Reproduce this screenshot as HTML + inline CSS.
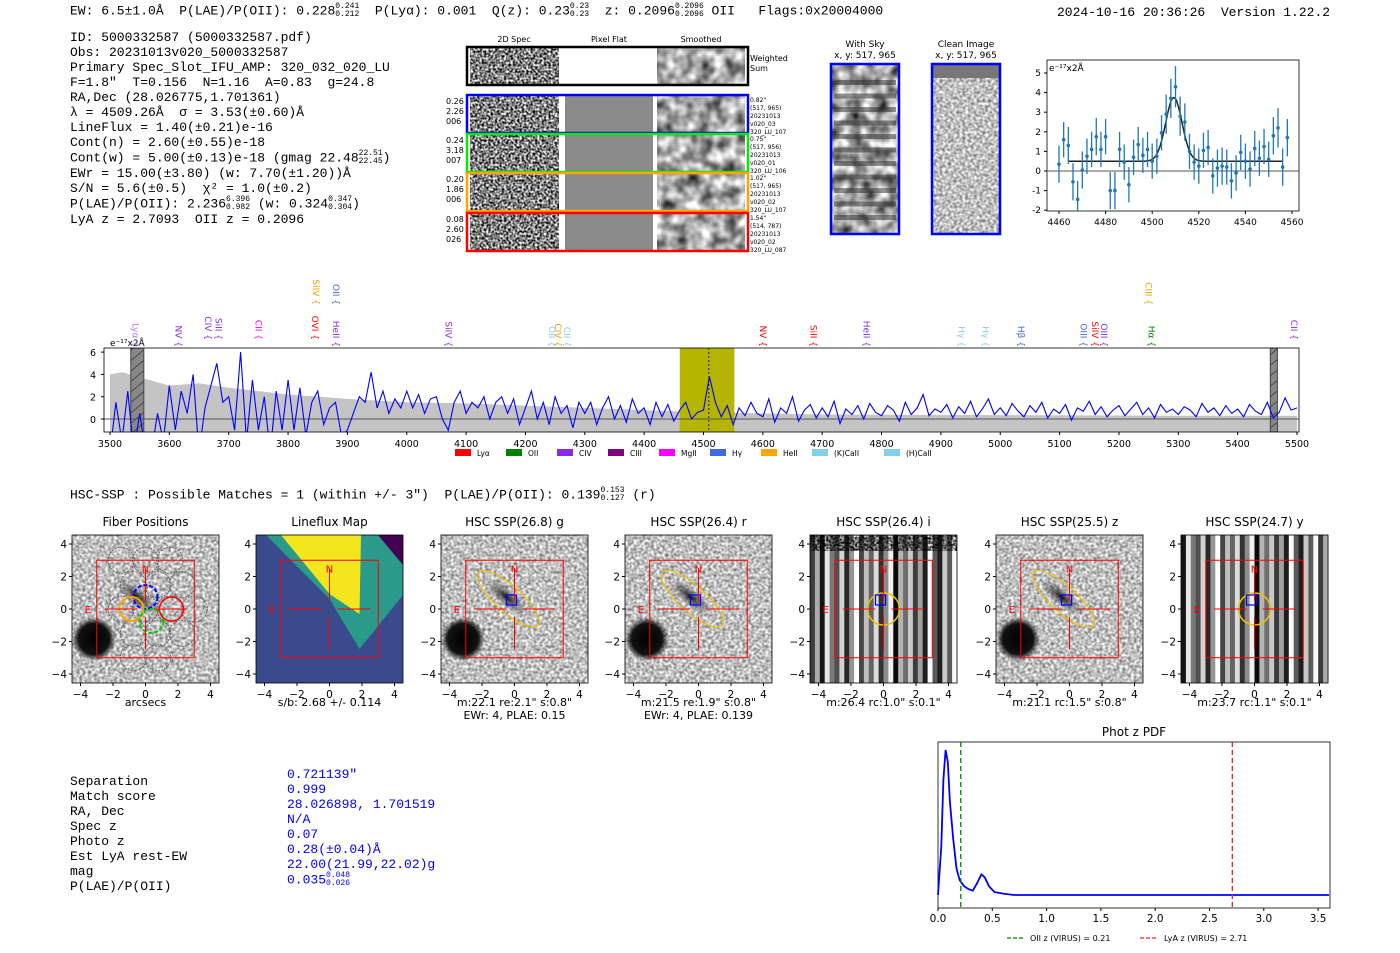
<!DOCTYPE html>
<html><head><meta charset="utf-8">
<style>
body{margin:0;width:1400px;height:953px;background:#fff;position:relative;overflow:hidden;font-family:"DejaVu Sans","Liberation Sans",sans-serif;}
.m{font-family:"Liberation Mono","DejaVu Sans Mono",monospace;font-size:13px;position:absolute;white-space:pre;color:#000;}
.t{position:absolute;white-space:pre;font-size:12px;}
.ss{display:inline-block;vertical-align:middle;line-height:8px;font-size:8px;}
svg{position:absolute;left:0;top:0;}
</style></head>
<body>
<div class="m" style="left:70px;top:3px">EW: 6.5±1.0Å  P(LAE)/P(OII): 0.228<span class="ss">0.241<br>0.212</span>  P(Lyα): 0.001  Q(z): 0.23<span class="ss">0.23<br>0.23</span>  z: 0.2096<span class="ss">0.2096<br>0.2096</span> OII   Flags:0x20004000</div>
<div class="m" style="left:1057px;top:5px">2024-10-16 20:36:26  Version 1.22.2</div>
<div class="m" style="left:70px;top:30px;line-height:15px">ID: 5000332587 (5000332587.pdf)
Obs: 20231013v020_5000332587
Primary Spec_Slot_IFU_AMP: 320_032_020_LU
F=1.8"  T=0.156  N=1.16  A=0.83  g=24.8
RA,Dec (28.026775,1.701361)
λ = 4509.26Å  σ = 3.53(±0.60)Å
LineFlux = 1.40(±0.21)e-16
Cont(n) = 2.60(±0.55)e-18
Cont(w) = 5.00(±0.13)e-18 (gmag 22.48<span class="ss">22.51<br>22.45</span>)
EWr = 15.00(±3.80) (w: 7.70(±1.20))Å
S/N = 5.6(±0.5)  χ² = 1.0(±0.2)
P(LAE)/P(OII): 2.236<span class="ss">6.396<br>0.982</span> (w: 0.324<span class="ss">0.347<br>0.304</span>)
LyA z = 2.7093  OII z = 0.2096</div>

<div class="m" style="left:70px;top:487px">HSC-SSP : Possible Matches = 1 (within +/- 3")  P(LAE)/P(OII): 0.139<span class="ss">0.153<br>0.127</span> (r)</div>

<div class="m" style="left:70px;top:774px;line-height:15px">Separation
Match score
RA, Dec
Spec z
Photo z
Est LyA rest-EW
mag
P(LAE)/P(OII)</div>
<div class="m" style="left:287px;top:767px;line-height:15px;color:#00f">0.721139"
0.999
28.026898, 1.701519
N/A
0.07
0.28(±0.04)Å
22.00(21.99,22.02)g
0.035<span class="ss">0.048<br>0.026</span></div>

<svg id="main" width="1400" height="953" xmlns="http://www.w3.org/2000/svg" font-family="DejaVu Sans, Liberation Sans, sans-serif">
<defs>
<filter id="noise" x="0" y="0" width="100%" height="100%"><feTurbulence type="fractalNoise" baseFrequency="0.45" numOctaves="1" seed="3"/><feColorMatrix type="matrix" values="0 0 0 0 0 0 0 0 0 0 0 0 0 0 0 0 0 0 -2.2 1.6"/><feComposite in2="SourceGraphic" operator="in"/></filter>
<filter id="blur" x="0" y="0" width="100%" height="100%"><feTurbulence type="fractalNoise" baseFrequency="0.08" numOctaves="2" seed="7"/><feColorMatrix type="matrix" values="0 0 0 0 0 0 0 0 0 0 0 0 0 0 0 0 0 0 -1.3 1.0"/><feComposite in2="SourceGraphic" operator="in"/></filter>
<filter id="fine" x="0" y="0" width="100%" height="100%"><feTurbulence type="fractalNoise" baseFrequency="0.35" numOctaves="1" seed="11"/><feColorMatrix type="matrix" values="0 0 0 0 0 0 0 0 0 0 0 0 0 0 0 0 0 0 -1.0 0.75"/><feComposite in2="SourceGraphic" operator="in"/></filter>
<pattern id="hatch" width="8" height="8" patternUnits="userSpaceOnUse" patternTransform="rotate(-40)"><rect width="8" height="8" fill="#888"/><line x1="0" y1="0" x2="8" y2="0" stroke="#333" stroke-width="1.5"/></pattern>
<radialGradient id="blob"><stop offset="0" stop-color="#000"/><stop offset="0.7" stop-color="#111"/><stop offset="1" stop-color="#111" stop-opacity="0"/></radialGradient>
<radialGradient id="gal"><stop offset="0" stop-color="#111"/><stop offset="1" stop-color="#666" stop-opacity="0"/></radialGradient>
<clipPath id="specclip"><rect x="104" y="348" width="1195" height="84"/></clipPath>
<clipPath id="smclip"><rect x="1047" y="60" width="252" height="151"/></clipPath>
</defs>
<g id="cutouts"></g>
<g id="smallplot"></g>
<g id="spectrum"></g>
<g id="panels"></g>
<g id="pdf"></g>
</svg>

<script>
// ---------- Data ----------
const smallWave = [4460,4462,4464,4466,4468,4470,4472,4474,4476,4478,4480,4482,4484,4486,4488,4490,4492,4494,4496,4498,4500,4502,4504,4506,4508,4510,4512,4514,4516,4518,4520,4522,4524,4526,4528,4530,4532,4534,4536,4538,4540,4542,4544,4546,4548,4550,4552,4554,4556,4558];
const smallFlux = [0.35,1.6,1.3,-0.55,-1.45,0.05,0.75,1.1,1.75,1.1,1.75,-1.0,-1.0,1.1,0.45,-0.7,0.7,1.35,0.8,1.1,0.5,0.75,1.95,2.9,3.7,4.3,2.8,2.5,1.0,0.45,0.25,1.05,1.2,-0.25,0.15,0.25,0.2,-0.5,-0.1,0.95,0.5,0.1,1.15,0.65,1.25,0.6,1.8,2.2,0.2,1.7];
const smallErr = [0.95,0.9,0.95,0.95,0.95,0.95,0.9,0.9,0.95,0.9,0.9,0.95,0.95,0.9,0.9,0.9,0.9,0.9,0.9,0.9,0.9,0.9,0.9,1.0,1.0,1.05,1.0,0.95,0.9,0.9,0.9,0.9,0.9,0.9,0.95,0.95,0.9,0.9,0.9,0.9,0.9,0.9,0.9,0.9,0.9,0.9,0.95,1.0,0.95,0.95];
const fitCont = 0.5, fitPeak = 3.25, fitCenter = 4509.3, fitSigma = 3.5;
const smallXTicks = [4460,4480,4500,4520,4540,4560];
const smallYTicks = [-2,-1,0,1,2,3,4,5];

const specStart = 3500, specStep = 10;
const specFlux = [-3,1.5,-2,2.5,-3,0.5,-3,-3,0.5,-2,
3,-1,2.5,0.5,4,-3,1,3,5,1.5,
2,-1,6,-2,3.5,-1,2,-3,2.5,-1,
3.5,-1,2.8,-1.5,1.5,2.5,-0.5,1,1.5,-1.5,
-1,0.5,2,1.5,4.2,1,2.5,0.5,1.8,1,
2.5,1,2.2,0.5,1.8,2,0,-1,1.5,2.5,
0.5,1.5,1,2,0,1.5,2,0.5,1.8,-0.5,
1,2.5,0,1.5,-0.5,2,0.5,1.2,-0.8,1.5,
0.5,1.5,-0.5,1,2,0,1.2,-0.3,1.8,0.5,
1,-0.5,1.5,0.2,1.3,-0.2,0.8,1.5,0,0.6,
0.8,3.8,1.5,0.2,1.2,-0.5,1.0,0.3,1.5,0.5,
0.2,1.8,-0.3,1.0,0.5,2.0,-0.2,0.8,1.3,0.1,
1.0,0.2,1.6,-0.4,0.9,0.4,1.2,0,1.4,0.6,
0.3,1.2,0.8,-0.2,1.5,0.4,1.0,2.2,0.3,0.9,
0.6,1.3,0.1,1.1,0.5,1.6,0.2,0.9,1.8,0.4,
1.0,0.3,1.4,0.7,0.2,1.2,0.6,1.5,0.1,0.9,
0.5,1.3,-0.1,1.0,0.7,1.6,0.4,1.1,0.2,0.8,
1.2,0.3,0.9,1.5,0.4,1.0,0.1,1.3,0.6,0.9,
0.4,1.1,0.8,0.2,1.4,0.6,1.0,0.3,1.2,0.5,
0.9,0.2,1.3,0.7,0.4,1.5,0.1,0.6,1.9,0.8,1.0];
const skyWave = [3500,3520,3560,3600,3650,3700,3800,3900,4000,4100,4200,4300,4400,4500,4700,5000,5300,5500];
const skyFlux = [4.0,4.2,3.6,3.0,3.2,2.8,2.2,1.8,1.5,1.4,1.2,1.0,0.8,0.6,0.4,0.35,0.3,0.3];
const specXTicks = [3500,3600,3700,3800,3900,4000,4100,4200,4300,4400,4500,4600,4700,4800,4900,5000,5100,5200,5300,5400,5500];
const specYTicks = [0,2,4,6];
const lineNames = ["Lyα","NV","CIV","SiII","CII","SiIV","OII","OVI","HeII","SiIV","OII","CIV","CII","NV","SiII","HeII","Hγ","Hγ","Hβ","OIII","SiIV","OIII","CIII","Hα","CII"];
const lineWaves = [3538,3610,3660,3678,3745,3842,3876,3840,3876,4065,4240,4250,4265,4595,4680,4770,4930,4970,5030,5135,5155,5170,5245,5250,5490];
const lineEnds = [347,347,340,340,340,305,305,340,347,347,347,347,347,347,347,347,347,347,347,347,347,347,305,347,340];
const lineColors = ["#c070ff","#8a2be2","#8a2be2","#8a2be2","#ff00ff","#f4a000","#4169e1","#ff0000","#8a2be2","#8a2be2","#87ceeb","#f4a000","#87ceeb","#ff0000","#ff0000","#8a2be2","#87ceeb","#87ceeb","#4169e1","#4169e1","#ff0000","#8a2be2","#f4a000","#008000","#8a2be2"];
const legendNames = ["Lyα","OII","CIV","CIII","MgII","Hγ","HeII","(K)CaII","(H)CaII"];
const legendColors = ["#ff0000","#008000","#8a2be2","#800080","#ff00ff","#4169e1","#ffa500","#87ceeb","#87ceeb"];

const pdfZ = [0,0.03,0.05,0.07,0.09,0.11,0.14,0.17,0.2,0.24,0.28,0.32,0.36,0.4,0.43,0.47,0.52,0.6,0.7,0.9,1.2,2.0,3.0,3.6];
const pdfP = [0.02,0.35,0.8,1.0,0.92,0.65,0.4,0.2,0.12,0.08,0.06,0.05,0.1,0.16,0.14,0.08,0.04,0.03,0.02,0.02,0.02,0.02,0.02,0.02];
const pdfXTicks = [0.0,0.5,1.0,1.5,2.0,2.5,3.0,3.5];
const oiiZ = 0.21, lyaZ = 2.71;

const panelTitles = ["Fiber Positions","Lineflux Map","HSC SSP(26.8) g","HSC SSP(26.4) r","HSC SSP(26.4) i","HSC SSP(25.5) z","HSC SSP(24.7) y"];
const panelCaps1 = ["arcsecs","s/b: 2.68 +/- 0.114","m:22.1  re:2.1\"  s:0.8\"","m:21.5  re:1.9\"  s:0.8\"","m:26.4 rc:1.0\"  s:0.1\"","m:21.1  rc:1.5\"  s:0.8\"","m:23.7 rc:1.1\"  s:0.1\""];
const panelCaps2 = ["","","EWr: 4, PLAE: 0.15","EWr: 4, PLAE: 0.139","","",""];
const panelTicks = [-4,-2,0,2,4];

// ---------- helpers ----------
const NS="http://www.w3.org/2000/svg";
function mk(parent,tag,attrs,text){const e=document.createElementNS(NS,tag);for(const k in attrs)e.setAttribute(k,attrs[k]);if(text!==undefined)e.textContent=text;parent.appendChild(e);return e;}

// ---------- cutouts ----------
(function(){
 const g=document.getElementById('cutouts');
 [["2D Spec",514],["Pixel Flat",609],["Smoothed",701]].forEach(([t,x])=>{const e=mk(g,'text',{x:x,y:42,'font-size':8,'text-anchor':'middle'},t);
 
 });
 mk(g,'rect',{x:470,y:48,width:89,height:36,fill:'#888',filter:'url(#noise)'});
 mk(g,'rect',{x:657,y:48,width:88,height:36,fill:'#999',filter:'url(#blur)'});
 const ws=mk(g,'rect',{x:467,y:47,width:281,height:38,fill:'none',stroke:'#000','stroke-width':2.5});
 
 
 mk(g,'text',{x:750,y:61,'font-size':8},'Weighted');mk(g,'text',{x:750,y:71,'font-size':8},'Sum');
 const rows=[[95,'#0000ff',['0.26','2.26','006'],['0.82"','(517, 965)','20231013','v020_03','320_LU_107']],
 [134,'#00ee00',['0.24','3.18','007'],['0.75"','(517, 956)','20231013','v020_01','320_LU_106']],
 [173,'#ffa500',['0.20','1.86','006'],['1.02"','(517, 965)','20231013','v020_02','320_LU_107']],
 [213,'#ff0000',['0.08','2.60','026'],['1.54"','(514, 787)','20231013','v020_02','320_LU_087']]];
 rows.forEach(([y,c,l,r])=>{
  mk(g,'rect',{x:470,y:y,width:89,height:38,fill:'#888',filter:'url(#noise)'});
  mk(g,'rect',{x:565,y:y,width:88,height:38,fill:'#8a8a8a'});
  mk(g,'rect',{x:657,y:y,width:88,height:38,fill:'#999',filter:'url(#blur)'});
  const b=mk(g,'rect',{x:467,y:y,width:281,height:38,fill:'none',stroke:c,'stroke-width':2.5});
  
  
  l.forEach((s,i)=>mk(g,'text',{x:446,y:y+9+i*10,'font-size':8},s));
  r.forEach((s,i)=>mk(g,'text',{x:750,y:y+7+i*8,'font-size':6},s));
 });
 [[865,'With Sky','x, y: 517, 965',831,'#aaa'],[966,'Clean Image','x, y: 517, 965',932,'#888']].forEach(([cx,t1,t2,x,f],i)=>{
  mk(g,'text',{x:cx,y:47,'font-size':9,'text-anchor':'middle'},t1);
  mk(g,'text',{x:cx,y:58,'font-size':9,'text-anchor':'middle'},t2);
  mk(g,'rect',{x:x,y:64,width:68,height:170,fill:f,filter:i==0?'url(#blur)':'url(#fine)'});
  if(i==0){for(let k=0;k<11;k++)mk(g,'rect',{x:x+3,y:80+k*13.5,width:62,height:5,fill:'#333',opacity:0.55});}
  else mk(g,'rect',{x:x,y:64,width:68,height:14,fill:'#777'});
  const b=mk(g,'rect',{x:x,y:64,width:68,height:170,fill:'none',stroke:'#0000ff','stroke-width':2.5});
  
  
 });
})();

// ---------- small line-fit plot ----------
(function(){
 const g=document.getElementById('smallplot');
 const X=w=>1059+(w-4460)*2.33, Y=v=>171-v*19.6;
 mk(g,'rect',{x:1047,y:60,width:252,height:151,fill:'#fff',stroke:'#000','stroke-width':0.8});
 const c=mk(g,'g',{'clip-path':'url(#smclip)'});
 mk(c,'line',{x1:1047,x2:1299,y1:Y(0),y2:Y(0),stroke:'#555','stroke-width':1});
 let d='';for(let w=4464;w<=4556;w+=0.5){const v=fitCont+fitPeak*Math.exp(-0.5*((w-fitCenter)/fitSigma)**2);d+=(d?'L':'M')+X(w).toFixed(1)+','+Y(v).toFixed(1);}
 const fl=mk(c,'path',{d:d,fill:'none',stroke:'#222','stroke-width':1.5});
 
 
 smallWave.forEach((w,i)=>{
  mk(c,'line',{x1:X(w),x2:X(w),y1:Y(smallFlux[i]-smallErr[i]),y2:Y(smallFlux[i]+smallErr[i]),stroke:'#1f77b4','stroke-width':1.3});
  const p=mk(c,'circle',{cx:X(w),cy:Y(smallFlux[i]),r:1.8,fill:'#1f77b4'});
  
  
 });
 smallXTicks.forEach(t=>{mk(g,'line',{x1:X(t),x2:X(t),y1:211,y2:214,stroke:'#000'});mk(g,'text',{x:X(t),y:225,'font-size':9,'text-anchor':'middle'},t);});
 smallYTicks.forEach(t=>{mk(g,'line',{x1:1044,x2:1047,y1:Y(t),y2:Y(t),stroke:'#000'});mk(g,'text',{x:1041,y:Y(t)+3,'font-size':9,'text-anchor':'end'},t);});
 mk(g,'text',{x:1049,y:71,'font-size':9},'e⁻¹⁷x2Å');
})();

// ---------- main spectrum ----------
(function(){
 const g=document.getElementById('spectrum');
 const X=w=>110+(w-3500)*0.5935, Y=v=>419-v*11.15;
 mk(g,'rect',{x:104,y:348,width:1195,height:84,fill:'#fff'});
 const c=mk(g,'g',{'clip-path':'url(#specclip)'});
 let d='M'+X(skyWave[0])+','+432;skyWave.forEach((w,i)=>d+='L'+X(w).toFixed(1)+','+Y(skyFlux[i]).toFixed(1));d+='L'+X(5500)+',432Z';
 const sky=mk(c,'path',{d:d,fill:'#c4c4c4'});
 
 
 const yb=mk(c,'rect',{x:X(4460),y:348,width:X(4552)-X(4460),height:84,fill:'#b5b500'});
 
 
 mk(c,'rect',{x:X(3535),y:348,width:X(3557)-X(3535),height:84,fill:'url(#hatch)',stroke:'#444'});
 mk(c,'rect',{x:X(5455),y:348,width:X(5467)-X(5455),height:84,fill:'url(#hatch)',stroke:'#444'});
 mk(c,'line',{x1:104,x2:1299,y1:Y(0),y2:Y(0),stroke:'#555','stroke-width':1});
 mk(c,'line',{x1:X(4509),x2:X(4509),y1:348,y2:432,stroke:'#000','stroke-dasharray':'2,2','stroke-width':0.8});
 let p='';specFlux.forEach((v,i)=>{p+=(i?'L':'M')+X(specStart+i*specStep).toFixed(1)+','+Y(v).toFixed(1);});
 const ln=mk(c,'path',{d:p,fill:'none',stroke:'#0000ff','stroke-width':1.1});
 
 
 mk(g,'rect',{x:104,y:348,width:1195,height:84,fill:'none',stroke:'#000','stroke-width':0.8});
 specXTicks.forEach(t=>{mk(g,'line',{x1:X(t),x2:X(t),y1:432,y2:435,stroke:'#000'});mk(g,'text',{x:X(t),y:447,'font-size':9.5,'text-anchor':'middle'},t);});
 specYTicks.forEach(t=>{mk(g,'line',{x1:101,x2:104,y1:Y(t),y2:Y(t),stroke:'#000'});mk(g,'text',{x:96,y:Y(t)+4,'font-size':9.5,'text-anchor':'end'},t);});
 mk(g,'text',{x:110,y:346,'font-size':9},'e⁻¹⁷x2Å');
 lineNames.forEach((n,i)=>{const x=X(lineWaves[i]), y=lineEnds[i];
  const t=mk(g,'text',{x:x,y:y,'font-size':9,fill:lineColors[i],transform:`rotate(90 ${x} ${y})`,'text-anchor':'end'},n+' {');
  
  
 });
 let lx=455;legendNames.forEach((n,i)=>{const r=mk(g,'rect',{x:lx,y:449,width:16,height:7,fill:legendColors[i]});
  
  
  mk(g,'text',{x:lx+22,y:456,'font-size':7.5},n);lx+=n.length>5?72:51;});
})();

// ---------- image panels ----------
(function(){
 const g=document.getElementById('panels');
 const lefts=[72,256,441,625,810,996,1181];
 const stripeShades=[30,200,90,250,60,170,20,230,120,80,210,40,150,255,70,190,100,220,50,140,240,10,180,110,200,60,160,30,250,90];
 lefts.forEach((L,k)=>{
  const W=147,T=535,H=148,cx=L+W/2,cy=T+H/2,s=16.25;
  const pg=mk(g,'g',{});
  
  
  mk(pg,'text',{x:cx,y:526,'font-size':12,'text-anchor':'middle'},panelTitles[k]);
  if(k==1){
   mk(pg,'rect',{x:L,y:T,width:W,height:H,fill:'#3b4a8c'});
   mk(pg,'polygon',{points:`${L+10},${T} ${L+W},${T} ${L+W},${T+60} ${cx+30},${cy+40} ${cx},${cy-10}`,fill:'#2a9a8a'});
   mk(pg,'polygon',{points:`${L+25},${T} ${L+105},${T} ${cx+30},${cy+5} ${cx},${cy-15}`,fill:'#f4e61e'});
   mk(pg,'polygon',{points:`${L+W-25},${T} ${L+W},${T} ${L+W},${T+30}`,fill:'#440154'});
  } else if(k==4||k==6){
   const n=30;for(let i=0;i<n;i++){const v=stripeShades[(i+k)%n];mk(pg,'rect',{x:L+i*W/n,y:T,width:W/n+0.5,height:H,fill:`rgb(${v},${v},${v})`});}
   if(k==4)mk(pg,'rect',{x:L,y:T,width:W,height:16,fill:'#888',filter:'url(#noise)'});
  } else {
   mk(pg,'rect',{x:L,y:T,width:W,height:H,fill:'#c8c8c8',filter:'url(#fine)'});
   mk(pg,'circle',{cx:L+22,cy:T+104,r:22,fill:'url(#blob)'});
   mk(pg,'ellipse',{cx:cx-8,cy:cy-12,rx:28,ry:9,fill:'url(#gal)',transform:`rotate(40 ${cx-8} ${cy-12})`});
  }
  if(k==0){[[-1,2],[1,2],[-2,0],[0,0],[2,0],[-1,-2],[1,-2],[0,4],[2,4],[-2,4],[3,2],[3,-2],[1,-4],[-1,-4],[4,0]].forEach(([a,b])=>mk(pg,'circle',{cx:cx+a*s*0.75,cy:cy-b*s*0.75,r:13,fill:'none',stroke:'#666','stroke-dasharray':'2,1'}));
   mk(pg,'circle',{cx:cx,cy:cy-12,r:12,fill:'none',stroke:'#00f','stroke-width':2,'stroke-dasharray':'4,2'});
   mk(pg,'circle',{cx:cx-14,cy:cy,r:12,fill:'none',stroke:'orange','stroke-width':2});
   mk(pg,'circle',{cx:cx+6,cy:cy+12,r:12,fill:'none',stroke:'#0c0','stroke-width':2,'stroke-dasharray':'4,2'});
   mk(pg,'circle',{cx:cx+26,cy:cy,r:12,fill:'none',stroke:'red','stroke-width':1.5});}
  if(k>=2){ if(k==2||k==3||k==5)mk(pg,'ellipse',{cx:cx-6,cy:cy-10,rx:40,ry:13,fill:'none',stroke:'#f0c000','stroke-width':1.2,transform:`rotate(42 ${cx-6} ${cy-10})`});
   else mk(pg,'circle',{cx:cx,cy:cy,r:16,fill:'none',stroke:'#f0c000','stroke-width':1.5});
   mk(pg,'rect',{x:cx-8,y:cy-14,width:10,height:10,fill:'none',stroke:'#00f','stroke-width':1.2});}
  mk(pg,'rect',{x:cx-3*s,y:cy-3*s,width:6*s,height:6*s,fill:'none',stroke:'red','stroke-width':1});
  mk(pg,'line',{x1:cx-2.5*s,x2:cx-0.5*s,y1:cy,y2:cy,stroke:'red'});mk(pg,'line',{x1:cx+0.5*s,x2:cx+2.5*s,y1:cy,y2:cy,stroke:'red'});
  mk(pg,'line',{x1:cx,x2:cx,y1:cy-2.5*s,y2:cy-0.5*s,stroke:'red'});mk(pg,'line',{x1:cx,x2:cx,y1:cy+0.5*s,y2:cy+2.5*s,stroke:'red'});
  mk(pg,'text',{x:cx,y:cy-3*s+12,'font-size':10,fill:'red','text-anchor':'middle'},'N');
  mk(pg,'text',{x:cx-3*s-9,y:cy+4,'font-size':10,fill:'red','text-anchor':'middle'},'E');
  mk(pg,'rect',{x:L,y:T,width:W,height:H,fill:'none',stroke:'#000','stroke-width':0.8});
  panelTicks.forEach(t=>{mk(pg,'line',{x1:cx+t*s,x2:cx+t*s,y1:T+H,y2:T+H+3,stroke:'#000'});mk(pg,'text',{x:cx+t*s,y:T+H+15,'font-size':10.5,'text-anchor':'middle'},t<0?'−'+(-t):t);
   mk(pg,'line',{x1:L-3,x2:L,y1:cy-t*s,y2:cy-t*s,stroke:'#000'});mk(pg,'text',{x:L-5,y:cy-t*s+4,'font-size':10.5,'text-anchor':'end'},t<0?'−'+(-t):t);});
  mk(pg,'text',{x:cx,y:706,'font-size':11,'text-anchor':'middle'},panelCaps1[k]);
  if(panelCaps2[k])mk(pg,'text',{x:cx,y:719,'font-size':11,'text-anchor':'middle'},panelCaps2[k]);
 });
})();

// ---------- phot z PDF ----------
(function(){
 const g=document.getElementById('pdf');
 const X=z=>938+z*108.6, Y=p=>898-p*148;
 mk(g,'text',{x:1134,y:736,'font-size':12,'text-anchor':'middle'},'Phot z PDF');
 mk(g,'rect',{x:938,y:742,width:392,height:166,fill:'#fff',stroke:'#000','stroke-width':0.8});
 let d='';pdfZ.forEach((z,i)=>d+=(i?'L':'M')+X(z).toFixed(1)+','+Y(pdfP[i]).toFixed(1));
 const p=mk(g,'path',{d:d,fill:'none',stroke:'#0000ff','stroke-width':1.8});
 
 
 mk(g,'line',{x1:X(oiiZ),x2:X(oiiZ),y1:742,y2:908,stroke:'#008000','stroke-dasharray':'5,3','stroke-width':1.3});
 mk(g,'line',{x1:X(lyaZ),x2:X(lyaZ),y1:742,y2:908,stroke:'#d62728','stroke-dasharray':'5,3','stroke-width':1.3});
 pdfXTicks.forEach(t=>{mk(g,'line',{x1:X(t),x2:X(t),y1:908,y2:911,stroke:'#000'});mk(g,'text',{x:X(t),y:922,'font-size':10.5,'text-anchor':'middle'},t.toFixed(1));});
 mk(g,'line',{x1:1007,x2:1025,y1:938,y2:938,stroke:'#008000','stroke-dasharray':'4,2','stroke-width':1.3});
 mk(g,'text',{x:1030,y:941,'font-size':8},'OII z (VIRUS) = 0.21');
 mk(g,'line',{x1:1140,x2:1158,y1:938,y2:938,stroke:'#d62728','stroke-dasharray':'4,2','stroke-width':1.3});
 mk(g,'text',{x:1164,y:941,'font-size':8},'LyA z (VIRUS) = 2.71');
})();
</script>
</body></html>
